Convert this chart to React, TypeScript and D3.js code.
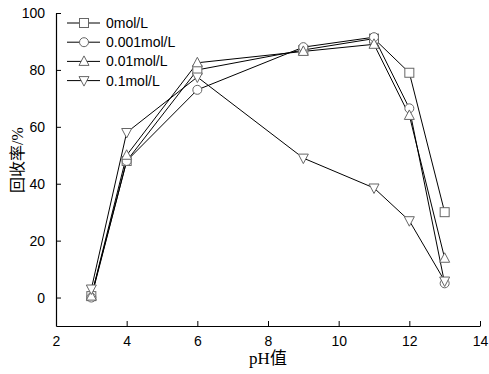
import React, { useEffect, useRef } from "react";
import * as d3 from "d3";

// pH values measured
const phValues = [3, 4, 6, 9, 11, 12, 13];

// recovery rate (%) per concentration
const seriesNames = ["0mol/L", "0.001mol/L", "0.01mol/L", "0.1mol/L"];
const conc0 = [0.5, 48, 80, 87, 91, 79, 30];
const conc0001 = [0, 48, 73, 88, 91.5, 66.5, 5];
const conc001 = [0.5, 50, 82.5, 86.5, 89, 64, 13.8];
const conc01 = [3, 58, 77.5, 49, 38.5, 27, 5.8];
const seriesValues = [conc0, conc0001, conc001, conc01];

const xTicks = [2, 4, 6, 8, 10, 12, 14];
const yTicks = [0, 20, 40, 60, 80, 100];

const W = 489;
const H = 374;

function drawMarker(g: any, kind: number, x: number, y: number) {
  const s = 4.5;
  const st = "#666";
  if (kind === 0) {
    g.append("rect").attr("x", x - s).attr("y", y - s).attr("width", 2 * s).attr("height", 2 * s)
      .attr("fill", "#fff").attr("stroke", st);
  } else if (kind === 1) {
    g.append("circle").attr("cx", x).attr("cy", y).attr("r", s).attr("fill", "#fff").attr("stroke", st);
  } else if (kind === 2) {
    g.append("path").attr("d", `M${x},${y - s - 1}L${x + s + 0.5},${y + s - 0.5}L${x - s - 0.5},${y + s - 0.5}Z`)
      .attr("fill", "#fff").attr("stroke", st);
  } else {
    g.append("path").attr("d", `M${x},${y + s + 1}L${x + s + 0.5},${y - s + 0.5}L${x - s - 0.5},${y - s + 0.5}Z`)
      .attr("fill", "#fff").attr("stroke", st);
  }
}

export default function App() {
  const ref = useRef<SVGSVGElement>(null);

  useEffect(() => {
    const svg = d3.select(ref.current);
    svg.selectAll("*").remove();

    const x = d3.scaleLinear().domain([2, 14]).range([56, 480]);
    const y = d3.scaleLinear().domain([-10, 100]).range([326, 13]);
    const font = "'Liberation Sans', Arial, sans-serif";

    // axes
    const xAxis = svg.append("g").attr("transform", `translate(0,${y(-10)})`)
      .call(d3.axisBottom(x).tickValues(xTicks).tickSizeInner(-5).tickSizeOuter(0).tickPadding(10));
    const yAxis = svg.append("g").attr("transform", `translate(${x(2)},0)`)
      .call(d3.axisLeft(y).tickValues(yTicks).tickSizeInner(-5).tickSizeOuter(0).tickPadding(11));
    [xAxis, yAxis].forEach((a) => {
      a.selectAll("path").attr("stroke", "#000").attr("stroke-width", 1.2);
      a.selectAll("line").attr("stroke", "#000");
      a.selectAll("text").attr("font-family", font).attr("font-size", 14).attr("fill", "#000");
    });

    const line = d3.line<number>().x((_, i) => x(phValues[i])).y((d) => y(d));
    const plot = svg.append("g");
    seriesValues.forEach((vals) => {
      plot.append("path").attr("d", line(vals)).attr("fill", "none").attr("stroke", "#000").attr("stroke-width", 1);
    });
    seriesValues.forEach((vals, k) => {
      vals.forEach((v, i) => drawMarker(plot, k, x(phValues[i]), y(v)));
    });

    // legend
    const lg = svg.append("g");
    seriesNames.forEach((name, k) => {
      const ly = 23 + k * 19.2;
      lg.append("line").attr("x1", 67).attr("x2", 100).attr("y1", ly).attr("y2", ly).attr("stroke", "#000");
      drawMarker(lg, k, 84, ly);
      lg.append("text").attr("x", 106).attr("y", ly + 5).attr("font-family", font).attr("font-size", 14)
        .text(name);
    });

    // axis titles
    svg.append("text").attr("x", 268).attr("y", 364).attr("text-anchor", "middle")
      .attr("font-family", "'Liberation Serif', 'Noto Sans CJK SC', serif").attr("font-size", 17)
      .text("pH值");
    svg.append("text").attr("transform", `translate(23,160) rotate(-90)`).attr("text-anchor", "middle")
      .attr("font-family", "'Liberation Serif', 'Noto Sans CJK SC', serif").attr("font-size", 16)
      .text("回收率/%");
  }, []);

  return <svg ref={ref} width={W} height={H} style={{ display: "block", position: "absolute", left: 0, top: 0 }} />;
}
